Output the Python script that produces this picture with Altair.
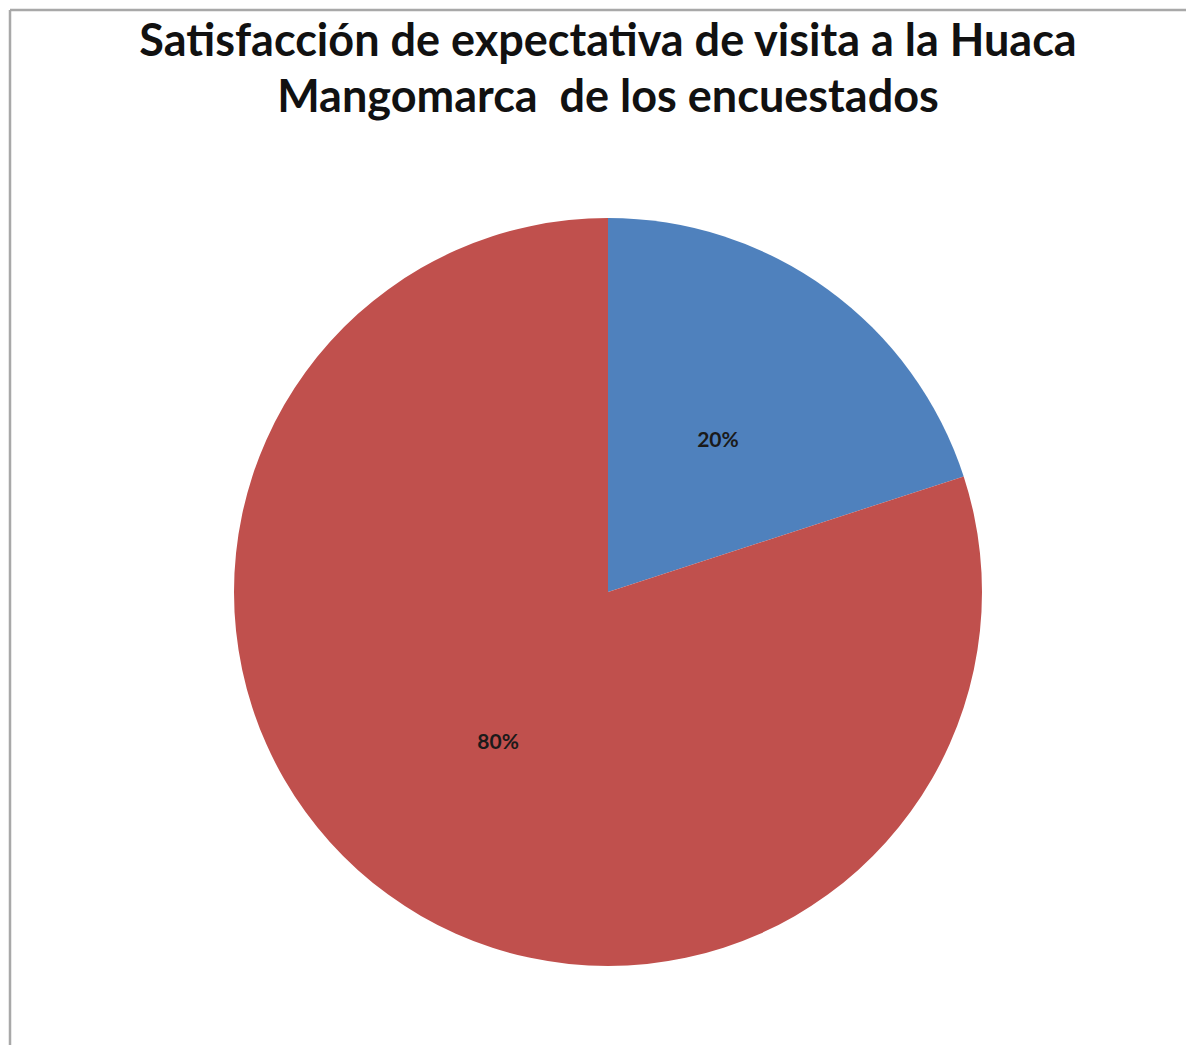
import altair as alt
import pandas as pd

categories = ["A", "B"]
values = [20, 80]
labels = ["20%", "80%"]
colors = ["#4F81BD", "#C0504D"]
title_lines = ["Satisfacción de expectativa de visita a la Huaca",
               "Mangomarca\u00a0 de los encuestados"]

W, H = 1178, 1037
CX, CY, R = 598, 583, 374

df = pd.DataFrame({"cat": categories, "value": values, "label": labels,
                   "order": list(range(len(categories)))})

base = alt.Chart(df)

pie = base.mark_arc(stroke=None, strokeWidth=0).encode(
    theta=alt.Theta("value:Q", stack=True),
    order=alt.Order("order:Q"),
    color=alt.Color("cat:N", scale=alt.Scale(domain=categories, range=colors), legend=None),
    x=alt.value(CX), y=alt.value(CY),
    radius=alt.value(R),
)

text = base.mark_text(font="Lato", fontSize=21, fontWeight="bold", color="#1a1a1a").encode(
    theta=alt.Theta("value:Q", stack=True),
    order=alt.Order("order:Q"),
    text="label:N",
    x=alt.value(CX), y=alt.value(CY),
    radius=alt.value(187),
)

title_layers = []
for line, ypos in zip(title_lines, [47, 103]):
    tdf = pd.DataFrame({"t": [line]})
    title_layers.append(
        alt.Chart(tdf).mark_text(font="Lato", fontSize=45, fontWeight="bold",
                                 color="#111111", baseline="alphabetic", align="center").encode(
            text="t:N", x=alt.value(CX), y=alt.value(ypos))
    )

one = pd.DataFrame({"k": [0]})
left_border = alt.Chart(one).mark_rule(color="#a8a8a8", strokeWidth=2.5).encode(
    x=alt.value(0), y=alt.value(1), y2=alt.value(H))
top_border = alt.Chart(one).mark_rule(color="#a8a8a8", strokeWidth=2.5).encode(
    x=alt.value(0), x2=alt.value(W), y=alt.value(1))

chart = alt.layer(left_border, top_border, pie, text, *title_layers).properties(
    width=W, height=H, padding=0,
    autosize=alt.AutoSizeParams(type="fit", contains="padding"),
).configure_view(stroke=None)

chart.save("out.html", embed_options={"renderer": "svg", "actions": False})
